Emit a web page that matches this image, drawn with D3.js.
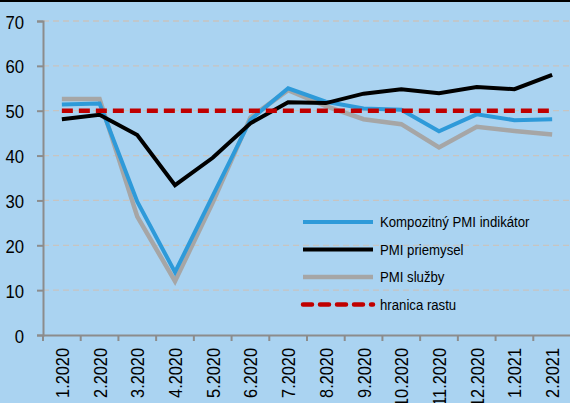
<!DOCTYPE html>
<html>
<head>
<meta charset="utf-8">
<script src="https://cdn.jsdelivr.net/npm/d3@7"></script>
<style>
  body { margin: 0; background: #aad3f1; }
  svg { display: block; font-family: "Liberation Sans", Arial, sans-serif; }
</style>
</head>
<body>
<svg id="chart" width="570" height="403"></svg>
<script>
var months = ["1.2020", "2.2020", "3.2020", "4.2020", "5.2020", "6.2020", "7.2020",
  "8.2020", "9.2020", "10.2020", "11.2020", "12.2020", "1.2021", "2.2021"];
var composite = [51.4, 51.6, 29.7, 14.0, 31.0, 48.0, 55.0, 52.0, 50.5, 50.2, 45.4, 49.2, 47.9, 48.1];
var industry = [48.1, 49.1, 44.6, 33.4, 39.5, 47.2, 51.9, 51.7, 53.8, 54.8, 53.9, 55.3, 54.8, 58.0];
var services = [52.6, 52.6, 26.4, 12.0, 29.5, 48.5, 54.6, 51.0, 48.1, 47.0, 41.8, 46.4, 45.5, 44.7];
var threshold = months.map(function() { return 50; });
var yTicks = [0, 10, 20, 30, 40, 50, 60, 70];

var series = [
  {name: "Kompozitný PMI indikátor", values: composite, color: "#2e9ad9", width: 4},
  {name: "PMI priemysel", values: industry, color: "#000000", width: 4},
  {name: "PMI služby", values: services, color: "#a6a6a6", width: 4.5},
  {name: "hranica rastu", values: threshold, color: "#c00000", width: 4.5, dash: "11,6"}
];
// drawing order: gray under blue under black, dashed on top
var drawOrder = [2, 0, 1, 3];

var svg = d3.select("#chart");
var plotLeft = 43, plotRight = 571, plotTop = 21, plotBottom = 335;

var x = d3.scaleBand().domain(months).range([plotLeft, plotRight]);
var y = d3.scaleLinear().domain([0, 70]).range([plotBottom, plotTop]);

svg.append("rect").attr("width", 570).attr("height", 403).attr("fill", "#aad3f1");
svg.append("rect").attr("width", 570).attr("height", 2).attr("fill", "#000");

// gridlines
svg.append("g").selectAll("line")
  .data(yTicks.filter(function(d) { return d > 0; }))
  .join("line")
  .attr("x1", plotLeft).attr("x2", 570)
  .attr("y1", function(d) { return y(d); }).attr("y2", function(d) { return y(d); })
  .attr("stroke", "#c8c4c0").attr("stroke-width", 1.3).attr("stroke-dasharray", "6,4");

// y axis
var yAxis = svg.append("g")
  .attr("transform", "translate(" + plotLeft + ",0)")
  .call(d3.axisLeft(y).tickValues(yTicks).tickSize(6).tickFormat(""));
yAxis.select(".domain").attr("stroke", "#8c8c8c").attr("stroke-width", 2);
yAxis.selectAll(".tick line").attr("stroke", "#8c8c8c").attr("stroke-width", 2);
yAxis.selectAll(".tick").append("text")
  .attr("transform", "translate(-19,7) scale(0.88,1)")
  .attr("text-anchor", "end")
  .attr("fill", "#000")
  .style("font-size", "19px")
  .text(function(d) { return d; });

// x axis
var xAxis = svg.append("g")
  .attr("transform", "translate(0," + plotBottom + ")")
  .call(d3.axisBottom(x).tickSize(0).tickFormat(""));
xAxis.select(".domain").attr("stroke", "#8c8c8c").attr("stroke-width", 2);
svg.append("g").selectAll("line")
  .data(months)
  .join("line")
  .attr("x1", function(d) { return x(d); }).attr("x2", function(d) { return x(d); })
  .attr("y1", plotBottom).attr("y2", plotBottom + 6)
  .attr("stroke", "#8c8c8c").attr("stroke-width", 2);
svg.append("g").selectAll("text")
  .data(months)
  .join("text")
  .attr("transform", function(d) {
    return "translate(" + (x(d) + x.bandwidth() / 2 + 7) + "," + (plotBottom + 13) + ") rotate(-90) scale(0.86,1)";
  })
  .attr("text-anchor", "end")
  .style("font-size", "19px")
  .attr("fill", "#000")
  .text(function(d) { return d; });

// lines
var line = d3.line()
  .x(function(d, i) { return x(months[i]) + x.bandwidth() / 2; })
  .y(function(d) { return y(d); });

drawOrder.forEach(function(k) {
  var s = series[k];
  svg.append("path")
    .datum(s.values)
    .attr("d", line)
    .attr("fill", "none")
    .attr("stroke", s.color)
    .attr("stroke-width", s.width)
    .attr("stroke-linejoin", "miter")
    .attr("stroke-dasharray", s.dash || null);
});

// legend
var legend = svg.append("g").attr("transform", "translate(303,222)");
series.forEach(function(s, i) {
  var row = legend.append("g").attr("transform", "translate(0," + (i * 27.5) + ")");
  row.append("line")
    .attr("x1", 0).attr("x2", 70)
    .attr("stroke", s.color).attr("stroke-width", s.width)
    .attr("stroke-linecap", s.dash ? "round" : "butt")
    .attr("stroke-dasharray", s.dash ? "9,8" : null);
  row.append("text")
    .attr("transform", "translate(77,5) scale(0.88,1)")
    .style("font-size", "15px")
    .attr("fill", "#000")
    .text(s.name);
});
</script>
</body>
</html>
